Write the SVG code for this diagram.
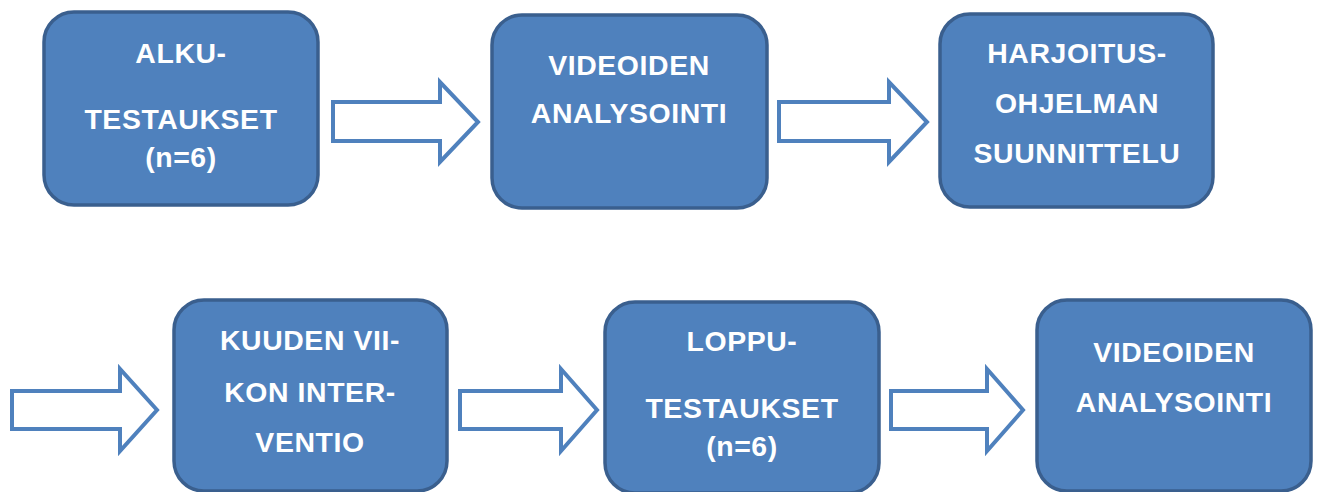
<svg xmlns="http://www.w3.org/2000/svg" width="1319" height="492" viewBox="0 0 1319 492">
  <style>
    .box { fill: #4F81BD; stroke: #3A5F8E; stroke-width: 3.5; }
    .lbl { font-family: "Liberation Sans", Arial, sans-serif; font-weight: bold; font-size: 28.4px; letter-spacing: 0.6px; fill: #FFFFFF; text-anchor: middle; }
    .arrow { fill: #FFFFFF; stroke: #4F81BD; stroke-width: 4; stroke-linejoin: miter; }
  </style>
  <rect width="1319" height="492" fill="#FFFFFF"/>

  <g id="connectors">
    <polygon class="arrow" points="333,102 440,102 440,82 478,122 440,162 440,141 333,141"/>
    <polygon class="arrow" points="779,102 889,102 889,82 927,122 889,162 889,141 779,141"/>
    <polygon class="arrow" points="12,391 120,391 120,369 157,410 120,451 120,429 12,429"/>
    <polygon class="arrow" points="460,391 561,391 561,369 597,410 561,451 561,429 460,429"/>
    <polygon class="arrow" points="891,391 987,391 987,369 1023,410 987,451 987,429 891,429"/>
  </g>

  <g id="alkutestaukset">
    <rect class="box" x="44" y="12" width="274" height="193" rx="30"/>
    <text class="lbl" x="181" y="63">ALKU-</text>
    <text class="lbl" x="181" y="129">TESTAUKSET</text>
    <text class="lbl" x="181" y="167">(n=6)</text>
  </g>

  <g id="videoiden-analysointi-1">
    <rect class="box" x="492" y="15" width="275" height="193" rx="30"/>
    <text class="lbl" x="629" y="75">VIDEOIDEN</text>
    <text class="lbl" x="629" y="123">ANALYSOINTI</text>
  </g>

  <g id="harjoitusohjelman-suunnittelu">
    <rect class="box" x="940" y="14" width="273" height="193" rx="30"/>
    <text class="lbl" x="1077" y="63">HARJOITUS-</text>
    <text class="lbl" x="1077" y="113">OHJELMAN</text>
    <text class="lbl" x="1077" y="163">SUUNNITTELU</text>
  </g>

  <g id="kuuden-viikon-interventio">
    <rect class="box" x="174" y="300" width="273" height="191" rx="30"/>
    <text class="lbl" x="310" y="350">KUUDEN VII-</text>
    <text class="lbl" x="310" y="402">KON INTER-</text>
    <text class="lbl" x="310" y="452">VENTIO</text>
  </g>

  <g id="lopputestaukset">
    <rect class="box" x="605" y="302" width="274" height="191" rx="30"/>
    <text class="lbl" x="742" y="351">LOPPU-</text>
    <text class="lbl" x="742" y="418">TESTAUKSET</text>
    <text class="lbl" x="742" y="456">(n=6)</text>
  </g>

  <g id="videoiden-analysointi-2">
    <rect class="box" x="1037" y="300" width="274" height="191" rx="30"/>
    <text class="lbl" x="1174" y="362">VIDEOIDEN</text>
    <text class="lbl" x="1174" y="412">ANALYSOINTI</text>
  </g>
</svg>
